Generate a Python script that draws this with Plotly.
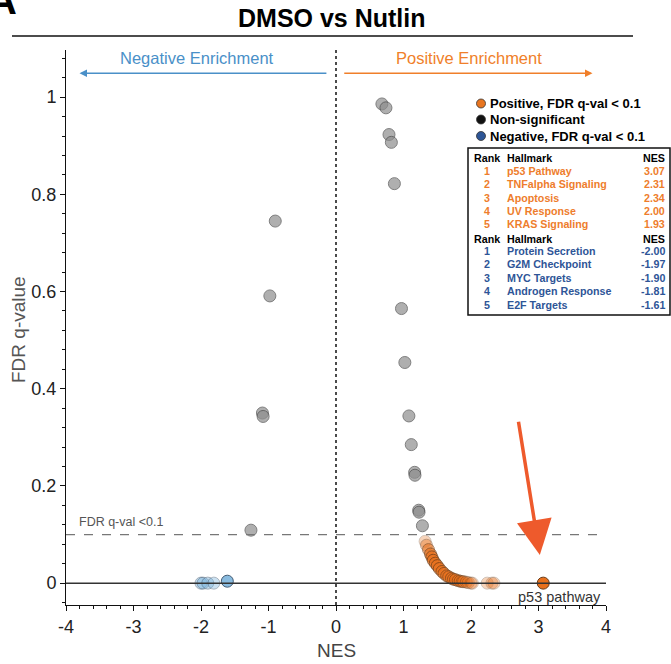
import plotly.graph_objects as go

# ---------------- data ----------------
gray_nes = [-1.26, -1.09, -1.08, -0.98, -0.90, 0.68, 0.74, 0.785, 0.82, 0.865,
            0.97, 1.02, 1.08, 1.115, 1.165, 1.17, 1.225, 1.23, 1.28]
gray_q = [0.109, 0.350, 0.343, 0.591, 0.745, 0.986, 0.978, 0.923, 0.907, 0.822,
          0.565, 0.454, 0.344, 0.285, 0.228, 0.222, 0.150, 0.146, 0.118]

pos_nes = [1.32, 1.34, 1.37, 1.40, 1.42, 1.44, 1.47, 1.50, 1.53, 1.57, 1.60, 1.64,
           1.67, 1.71, 1.74, 1.77, 1.81, 1.84, 1.87, 1.89, 1.93, 1.96, 2.00, 2.02,
           2.24, 2.31, 2.34, 3.07]
pos_q = [0.086, 0.078, 0.069, 0.060, 0.054, 0.047, 0.041, 0.036, 0.030, 0.024, 0.020, 0.015,
         0.013, 0.010, 0.008, 0.007, 0.005, 0.004, 0.003, 0.003, 0.002, 0.001, 0.000, 0.000,
         0.000, 0.000, 0.000, 0.000]
pos_alpha = [0.30, 0.40, 0.55, 0.65, 0.70, 0.70, 0.65, 0.70, 0.70, 0.65, 0.60, 0.60,
             0.60, 0.60, 0.55, 0.60, 0.55, 0.55, 0.45, 0.45, 0.40, 0.35, 0.30, 0.30,
             0.30, 0.30, 0.30, 1.00]

neg_nes = [-2.00, -1.97, -1.90, -1.81, -1.61]
neg_q = [0.000, 0.000, 0.000, 0.000, 0.004]
neg_alpha = [0.45, 0.45, 0.45, 0.40, 0.90]

pos_rank = ["1", "2", "3", "4", "5"]
pos_hallmark = ["p53 Pathway", "TNFalpha Signaling", "Apoptosis", "UV Response", "KRAS Signaling"]
pos_table_nes = ["3.07", "2.31", "2.34", "2.00", "1.93"]
neg_rank = ["1", "2", "3", "4", "5"]
neg_hallmark = ["Protein Secretion", "G2M Checkpoint", "MYC Targets", "Androgen Response", "E2F Targets"]
neg_table_nes = ["-2.00", "-1.97", "-1.90", "-1.81", "-1.61"]

legend_labels = ["Positive, FDR q-val < 0.1", "Non-significant", "Negative, FDR q-val < 0.1"]
legend_colors = ["#e8751f", "#111111", "#2d5596"]

x_ticks = [-4, -3, -2, -1, 0, 1, 2, 3, 4]
y_ticks = [0, 0.2, 0.4, 0.6, 0.8, 1]
y_tick_text = ["0", "0.2", "0.4", "0.6", "0.8", "1"]

# ---------------- layout helpers ----------------
W, H = 671, 664
L, R, T, B = 66, 65, 50, 59
PW, PH = W - L - R, H - T - B
FONT = "Liberation Sans, Arial, Helvetica, sans-serif"
ORANGE_T = "#ee7d2c"
BLUE_T = "#2e5597"


def px(p):
    return (p - L) / PW


def py(p):
    return (H - B - p) / PH


fig = go.Figure()

fig.add_trace(go.Scatter(
    x=gray_nes, y=gray_q, mode="markers", showlegend=False, hoverinfo="x+y",
    marker=dict(size=12, color="#8e8e8e", opacity=0.7,
                line=dict(color="#4a4a4a", width=1))))

fig.add_trace(go.Scatter(
    x=neg_nes, y=neg_q, mode="markers", showlegend=False, hoverinfo="x+y",
    marker=dict(size=12, color="#7db4dc", opacity=neg_alpha,
                line=dict(color="#2f4b66", width=1))))

fig.add_trace(go.Scatter(
    x=pos_nes, y=pos_q, mode="markers", showlegend=False, hoverinfo="x+y",
    marker=dict(size=12, color="#e8701c", opacity=pos_alpha,
                line=dict(color="#6b3a14", width=1))))

shapes = [
    dict(type="line", xref="x", yref="paper", x0=0, x1=0, y0=0, y1=1,
         line=dict(color="#111", width=1.5, dash="dot")),
    dict(type="line", xref="x", yref="y", x0=-4, x1=3.97, y0=0.1, y1=0.1,
         line=dict(color="#777", width=1.2, dash="dash")),
    dict(type="line", xref="x", yref="y", x0=-4, x1=4, y0=0, y1=0,
         line=dict(color="#333", width=1.5)),
    dict(type="line", xref="paper", yref="paper", x0=px(12), x1=px(633), y0=py(36), y1=py(36),
         line=dict(color="#111", width=1.5)),
    dict(type="rect", xref="paper", yref="paper", x0=px(468), x1=px(670), y0=py(315), y1=py(148),
         line=dict(color="#111", width=1.5), fillcolor="white", layer="above"),
]

legend_y = [103.5, 119.5, 136]
for c, yy in zip(legend_colors, legend_y):
    shapes.append(dict(type="circle", xref="paper", yref="paper", xsizemode="pixel", ysizemode="pixel",
                       xanchor=px(481), yanchor=py(yy), x0=-4.5, x1=4.5, y0=-4.5, y1=4.5,
                       fillcolor=c, line=dict(color="#333", width=0.8)))

ann = []
ann.append(dict(text="<b>DMSO vs Nutlin</b>", xref="paper", yref="paper", x=px(332), y=py(18),
                xanchor="center", yanchor="middle", showarrow=False,
                font=dict(family=FONT, size=25, color="#000")))
ann.append(dict(text="<b>A</b>", xref="paper", yref="paper", x=px(2), y=py(24),
                xanchor="center", yanchor="bottom", showarrow=False,
                font=dict(family=FONT, size=40, color="#000")))
ann.append(dict(text="Negative Enrichment", xref="x", yref="y", x=-2.06, y=1.080, showarrow=False,
                xanchor="center", yanchor="middle", font=dict(family=FONT, size=16.5, color="#4a90c8")))
ann.append(dict(text="Positive Enrichment", xref="x", yref="y", x=1.97, y=1.080, showarrow=False,
                xanchor="center", yanchor="middle", font=dict(family=FONT, size=16.5, color="#f07f2a")))
ann.append(dict(text="", xref="x", yref="y", x=-3.80, y=1.049, ax=-0.12, ay=1.049, axref="x", ayref="y",
                showarrow=True, arrowhead=2, arrowsize=1, arrowwidth=1.5, arrowcolor="#4a90c8"))
ann.append(dict(text="", xref="x", yref="y", x=3.80, y=1.049, ax=0.10, ay=1.049, axref="x", ayref="y",
                showarrow=True, arrowhead=2, arrowsize=1, arrowwidth=1.5, arrowcolor="#f07f2a"))
ann.append(dict(text="FDR q-val <0.1", xref="x", yref="y", x=-3.83, y=0.126, showarrow=False,
                xanchor="left", yanchor="middle", font=dict(family=FONT, size=12.5, color="#555")))
ann.append(dict(text="p53 pathway", xref="x", yref="y", x=3.95, y=-0.029, showarrow=False,
                xanchor="right", yanchor="middle", font=dict(family=FONT, size=14.5, color="#333")))
ann.append(dict(text="", xref="x", yref="y", x=3.02, y=0.058, ax=2.70, ay=0.335, axref="x", ayref="y",
                showarrow=True, arrowhead=2, arrowsize=2.0, arrowwidth=3.5, arrowcolor="#ee5a2c"))
ann.append(dict(text="NES", xref="paper", yref="paper", x=px(336), y=py(650), showarrow=False,
                xanchor="center", yanchor="middle", font=dict(family=FONT, size=19, color="#444")))
ann.append(dict(text="FDR q-value", xref="paper", yref="paper", x=px(18), y=py(330), showarrow=False,
                textangle=-90, xanchor="center", yanchor="middle",
                font=dict(family=FONT, size=19, color="#555")))
for lab, yy in zip(legend_labels, legend_y):
    ann.append(dict(text="<b>" + lab + "</b>", xref="paper", yref="paper", x=px(488), y=py(yy),
                    showarrow=False, xanchor="left", yanchor="middle",
                    font=dict(family=FONT, size=13, color="#000")))

TS = 10.7


def table_text(txt, xp, yp, anchor, color):
    ann.append(dict(text="<b>" + txt + "</b>", xref="paper", yref="paper", x=px(xp), y=py(yp),
                    showarrow=False, xanchor=anchor, yanchor="middle",
                    font=dict(family=FONT, size=TS, color=color)))


pos_rows_y = [171, 184.3, 197.6, 211, 224.3]
neg_rows_y = [251, 264.3, 277.7, 291, 304.5]
for hy in (157.7, 239.5):
    table_text("Rank", 472, hy, "left", "#000")
    table_text("Hallmark", 505, hy, "left", "#000")
    table_text("NES", 667, hy, "right", "#000")
for r, h, n, yy in zip(pos_rank, pos_hallmark, pos_table_nes, pos_rows_y):
    table_text(r, 487, yy, "center", ORANGE_T)
    table_text(h, 505, yy, "left", ORANGE_T)
    table_text(n, 667, yy, "right", ORANGE_T)
for r, h, n, yy in zip(neg_rank, neg_hallmark, neg_table_nes, neg_rows_y):
    table_text(r, 487, yy, "center", BLUE_T)
    table_text(h, 505, yy, "left", BLUE_T)
    table_text(n, 667, yy, "right", BLUE_T)

fig.update_layout(
    width=W, height=H, margin=dict(l=L, r=R, t=T, b=B, pad=0),
    paper_bgcolor="white", plot_bgcolor="white",
    font=dict(family=FONT, color="#222"),
    shapes=shapes, annotations=ann, showlegend=False,
    xaxis=dict(range=[-4, 4], tickvals=x_ticks, ticktext=[str(v) for v in x_ticks],
               showgrid=False, zeroline=False, showline=True, linecolor="#111", linewidth=1,
               ticks="outside", ticklen=5, tickcolor="#111", tickfont=dict(size=18, color="#222"),
               minor=dict(dtick=0.2, ticks="outside", ticklen=3, tickcolor="#111")),
    yaxis=dict(range=[-0.045, 1.097], tickvals=y_ticks, ticktext=y_tick_text,
               showgrid=False, zeroline=False, showline=True, linecolor="#111", linewidth=1,
               ticks="outside", ticklen=5, tickcolor="#111", tickfont=dict(size=18, color="#222"),
               minor=dict(tick0=0, dtick=0.04, ticks="outside", ticklen=3, tickcolor="#111")),
)

fig.write_html("out.html", config={"displayModeBar": False},
               post_script="document.body.style.margin='0px';document.body.style.overflow='hidden';")
